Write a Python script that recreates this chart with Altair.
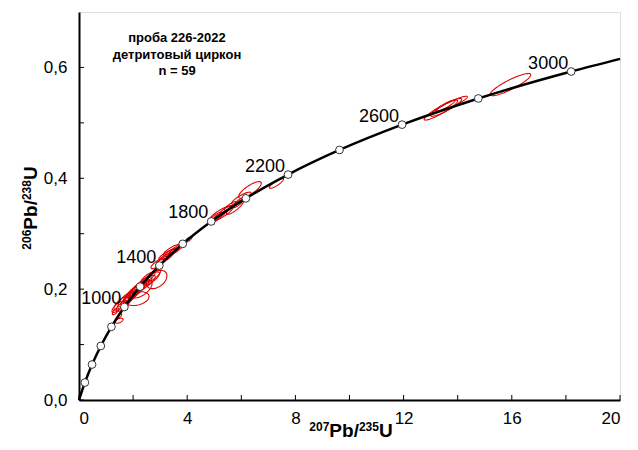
import altair as alt
import numpy as np
import pandas as pd

# Concordia age markers (Ma) and their coordinates
ages = [200, 400, 600, 800, 1000, 1200, 1400, 1600, 1800, 2000, 2200, 2400, 2600, 2800, 3000]
ages_x = [0.2177, 0.4828, 0.8057, 1.1987, 1.6774, 2.2603, 2.9702, 3.8345, 4.8870, 6.1688,
          7.7295, 9.6301, 11.9445, 14.7628, 18.1947]
ages_y = [0.0315, 0.0640, 0.0975, 0.1321, 0.1678, 0.2046, 0.2426, 0.2817, 0.3221, 0.3638,
          0.4067, 0.4511, 0.4968, 0.5440, 0.5926]

# concordia curve points (start, markers, end at right edge)
curve_x = [0.0] + ages_x + [20.0]
curve_y = [0.0] + ages_y + [0.6154]

labelled_ages = [1000, 1400, 1800, 2200, 2600, 3000]

# error ellipses: centre, half-extent in x, half-extent in y, correlation
ell_cx = [15.95, 13.38, 13.78, 13.57, 13.55,
          7.30, 6.32, 6.00, 5.77, 5.90, 5.25, 5.03, 5.18, 5.40, 5.60,
          4.05, 3.29, 3.44, 3.18, 3.59, 3.36, 2.87, 2.44, 2.62, 2.26, 2.14, 2.74, 2.50, 2.35,
          2.14, 1.59, 1.77, 1.92, 1.44, 1.48, 1.50, 2.05, 3.05, 1.70, 2.00, 1.85,
          2.30, 2.55, 1.62, 3.50, 2.90, 1.35]
ell_cy = [0.569, 0.523, 0.534, 0.528, 0.531,
          0.391, 0.379, 0.364, 0.348, 0.356, 0.336, 0.328, 0.332, 0.342, 0.350,
          0.2896, 0.263, 0.271, 0.256, 0.272, 0.266, 0.2174, 0.211, 0.218, 0.204, 0.198, 0.224, 0.214, 0.209,
          0.183, 0.175, 0.182, 0.188, 0.168, 0.143, 0.152, 0.195, 0.250, 0.178, 0.190, 0.185,
          0.200, 0.221, 0.170, 0.268, 0.246, 0.160]
ell_sx = [0.75, 0.62, 0.58, 0.58, 0.35,
          0.26, 0.42, 0.36, 0.32, 0.22, 0.46, 0.28, 0.22, 0.20, 0.22,
          0.13, 0.34, 0.32, 0.30, 0.26, 0.20, 0.38, 0.38, 0.36, 0.34, 0.30, 0.28, 0.20, 0.16,
          0.45, 0.30, 0.32, 0.28, 0.22, 0.15, 0.08, 0.28, 0.22, 0.16, 0.18, 0.20,
          0.40, 0.26, 0.24, 0.20, 0.24, 0.12]
ell_sy = [0.020, 0.018, 0.014, 0.016, 0.010,
          0.009, 0.015, 0.011, 0.013, 0.009, 0.015, 0.011, 0.007, 0.007, 0.008,
          0.005, 0.010, 0.010, 0.010, 0.009, 0.007, 0.0165, 0.014, 0.013, 0.013, 0.013, 0.011, 0.008, 0.007,
          0.0125, 0.013, 0.014, 0.012, 0.010, 0.0045, 0.004, 0.011, 0.009, 0.007, 0.008, 0.008,
          0.016, 0.010, 0.010, 0.007, 0.009, 0.006]
ell_rho = [0.88, 0.92, 0.92, 0.90, 0.90,
           0.85, 0.80, 0.85, 0.85, 0.85, 0.85, 0.85, 0.85, 0.85, 0.85,
           0.80, 0.85, 0.85, 0.85, 0.85, 0.85, 0.40, 0.80, 0.80, 0.80, 0.80, 0.80, 0.85, 0.85,
           0.30, 0.75, 0.75, 0.75, 0.75, 0.50, 0.60, 0.70, 0.85, 0.80, 0.80, 0.80,
           0.60, 0.80, 0.70, 0.85, 0.80, 0.70]

annotation = ["проба 226-2022", "детритовый циркон", "n = 59"]

x_tick_values = [0, 2, 4, 6, 8, 10, 12, 14, 16, 18, 20]
y_tick_values = [0.0, 0.1, 0.2, 0.3, 0.4, 0.5, 0.6]

# axis title pieces: (text, is_superscript)
x_title_parts = [("207", True), ("Pb/", False), ("235", True), ("U", False)]
y_title_parts = [("206", True), ("Pb/", False), ("238", True), ("U", False)]

# ---- tables ----
theta = np.linspace(0, 2 * np.pi, 73)
rows = []
for i, (cx, cy, sx, sy, r) in enumerate(zip(ell_cx, ell_cy, ell_sx, ell_sy, ell_rho)):
    s = np.sqrt(1 - r * r)
    for k, t in enumerate(theta):
        rows.append({"id": i, "k": k,
                     "x": cx + sx * np.cos(t),
                     "y": cy + sy * (r * np.cos(t) + s * np.sin(t))})
ell_df = pd.DataFrame(rows)
curve_df = pd.DataFrame({"x": curve_x, "y": curve_y, "k": range(len(curve_x))})
mark_df = pd.DataFrame({"age": ages, "x": ages_x, "y": ages_y})
lab_df = mark_df[mark_df["age"].isin(labelled_ages)].copy()
lab_df["label"] = lab_df["age"].astype(str)
xt_df = pd.DataFrame({"x": x_tick_values})
yt_df = pd.DataFrame({"y": y_tick_values})

W, H = 541, 388
FONT = "Liberation Sans"
BIG, SMALL = 19, 12
RAISE = 6


def text_width(t, size):
    widths = {"P": 0.667, "b": 0.611, "/": 0.278, "U": 0.722}
    return sum(widths.get(c, 0.556) for c in t) * size


def title_layers(parts, horizontal, cx, cy):
    total = sum(text_width(t, SMALL if sup else BIG) for t, sup in parts)
    layers = []
    pos = -total / 2
    for t, sup in parts:
        size = SMALL if sup else BIG
        df = pd.DataFrame({"t": [t]})
        if horizontal:
            enc = dict(x=alt.value(cx + pos), y=alt.value(cy - (RAISE if sup else 0)))
            m = alt.Chart(df).mark_text(align="left", baseline="alphabetic", fontSize=size,
                                        fontWeight="bold", font=FONT, color="black")
        else:
            enc = dict(x=alt.value(cx - (RAISE if sup else 0)), y=alt.value(cy - pos))
            m = alt.Chart(df).mark_text(align="left", baseline="alphabetic", fontSize=size,
                                        fontWeight="bold", font=FONT, color="black", angle=270)
        layers.append(m.encode(text="t:N", **enc))
        pos += text_width(t, size)
    return layers


xs = alt.Scale(domain=[0, 20], nice=False, zero=False)
ys = alt.Scale(domain=[0, 0.7], nice=False, zero=False)
xaxis = alt.Axis(values=[0, 4, 8, 12, 16, 20], format="d", tickSize=0, grid=False,
                 domainWidth=2, domainColor="black", labelFontSize=17, labelColor="black",
                 labelPadding=10, labelFont=FONT, title=None)
yaxis = alt.Axis(values=[0.0, 0.2, 0.4, 0.6], labelExpr="replace(format(datum.value, '.1f'), '.', ',')",
                 tickSize=0, grid=False, domainWidth=2, domainColor="black", labelFontSize=17,
                 labelColor="black", labelPadding=12, labelFont=FONT, title=None)
X = alt.X("x:Q", scale=xs, axis=xaxis)
Y = alt.Y("y:Q", scale=ys, axis=yaxis)

ellipses = alt.Chart(ell_df).mark_line(color="#e00000", strokeWidth=1.1).encode(
    x=X, y=Y, detail="id:N", order="k:Q")
curve = alt.Chart(curve_df).mark_line(color="black", strokeWidth=2.5, interpolate="monotone").encode(
    x=X, y=Y, order="k:Q")
markers = alt.Chart(mark_df).mark_point(shape="circle", filled=True, fill="white", stroke="#333333",
                                        strokeWidth=1, size=60, opacity=1).encode(x=X, y=Y)
labels = alt.Chart(lab_df).mark_text(align="right", baseline="alphabetic", dx=-3, dy=-3,
                                     fontSize=18, font=FONT, color="black").encode(
    x=X, y=Y, text="label:N")
xticks = alt.Chart(xt_df).mark_rule(color="black", strokeWidth=1).encode(
    x=X, y=alt.value(H), y2=alt.value(H - 5))
yticks = alt.Chart(yt_df).mark_rule(color="black", strokeWidth=1).encode(
    y=Y, x=alt.value(0), x2=alt.value(5))

ann_layers = []
for line_text, ypos in zip(annotation, [26, 42.5, 59]):
    ann_layers.append(
        alt.Chart(pd.DataFrame({"t": [line_text]})).mark_text(
            align="center", baseline="middle", fontSize=13, fontWeight="bold",
            font=FONT, color="black").encode(x=alt.value(98), y=alt.value(ypos), text="t:N"))

xt_layers = title_layers(x_title_parts, True, 272, 425)
yt_layers = title_layers(y_title_parts, False, -42, 196)

chart = alt.layer(ellipses, curve, markers, labels, xticks, yticks,
                  *ann_layers, *xt_layers, *yt_layers).properties(
    width=W, height=H,
    autosize=alt.AutoSizeParams(type="none"),
    padding={"left": 71, "top": 4, "right": 10, "bottom": 42},
).configure_view(stroke="black", strokeWidth=1).configure(background="white")

chart.save("out.html", embed_options={"renderer": "svg", "actions": False})
